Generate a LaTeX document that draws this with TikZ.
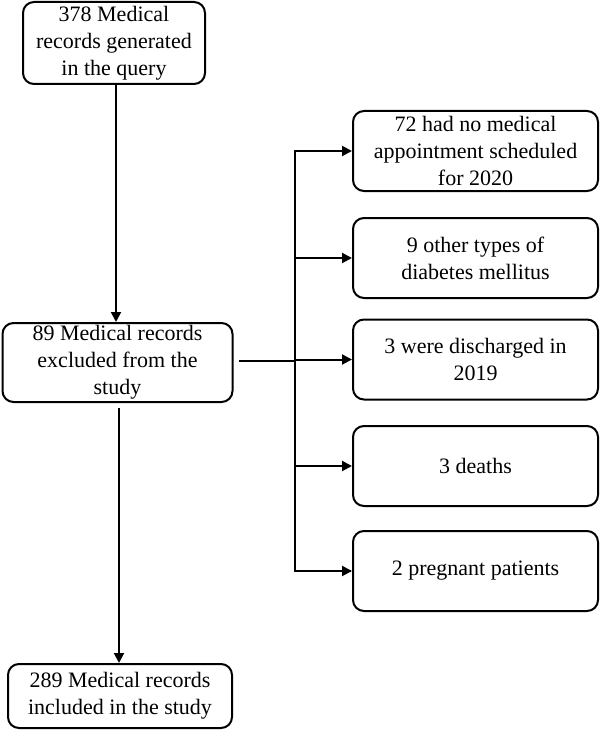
\documentclass[tikz,border=0pt]{standalone}
\usepackage{fontspec}
\setmainfont{Liberation Serif}
\newfontfamily\timesf{Liberation Serif}
\usetikzlibrary{arrows.meta}
\begin{document}
\begin{tikzpicture}[x=1pt,y=-1pt,
  box/.style={draw, line width=2pt, rounded corners=11pt, align=center,
    inner sep=0pt, font=\timesf\fontsize{22}{27}\selectfont},
  conn/.style={line width=2pt},
  arr/.style={line width=2pt, -{Triangle[length=10pt,width=10pt]}}]
\useasboundingbox (0,0) rectangle (601,730);
\node[box, minimum width=182pt, minimum height=82pt] (q) at (114,43) {378 Medical\\records generated\\in the query};
\node[box, minimum width=230pt, minimum height=79pt] (ex) at (117.5,362.5) {89 Medical records\\excluded from the\\study};
\node[box, minimum width=224pt, minimum height=64pt] (inc) at (120,696) {289 Medical records\\included in the study};
\node[box, minimum width=245pt, minimum height=80pt] (r1) at (475.5,151) {72 had no medical\\appointment scheduled\\for 2020};
\node[box, minimum width=245pt, minimum height=80pt] (r2) at (475.5,258) {9 other types of\\diabetes mellitus};
\node[box, minimum width=245pt, minimum height=80pt] (r3) at (475.5,359.5) {3 were discharged in\\2019};
\node[box, minimum width=245pt, minimum height=80pt] (r4) at (475.5,466) {3 deaths};
\node[box, minimum width=245pt, minimum height=80pt] (r5) at (475.5,571) {2 pregnant patients};
\coordinate (vt) at (295,151);
\coordinate (vb) at (295,571);
\coordinate (vm) at (295,361);
\draw[arr] (q.south -| 116,0) -- (ex.north -| 116,0);
\draw[arr, shorten <=5pt] (ex.south -| 119,0) -- (inc.north -| 119,0);
\draw[conn, shorten <=5pt] (ex.east |- vm) -- (vm);
\draw[conn] (vb -| r5.west) ++(-1pt,0) -- (vb) -- (vt) -- ++(1pt,0);
\draw[arr] (vt) -- (r1.west);
\draw[arr] (vt |- r2.west) -- (r2.west);
\draw[arr] (vt |- r3.west) -- (r3.west);
\draw[arr] (vt |- r4.west) -- (r4.west);
\draw[arr] (vb) -- (r5.west);
\end{tikzpicture}
\end{document}
